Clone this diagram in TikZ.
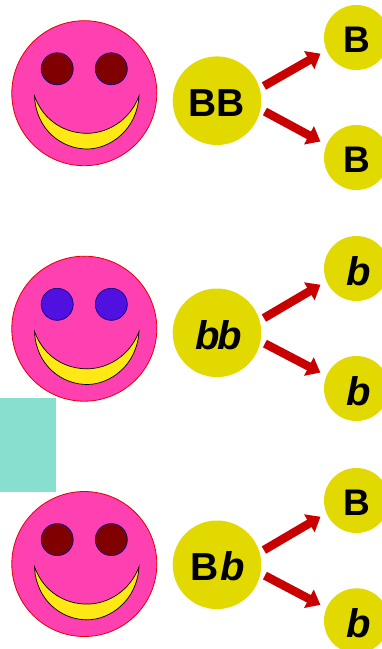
\documentclass[tikz,border=0pt]{standalone}
\usepackage{fontspec}
\usepackage{xcolor}
\usepackage{tikz}
\usetikzlibrary{arrows.meta}
\setmainfont{Liberation Sans}
\definecolor{facepink}{HTML}{FF40B0}
\definecolor{smileyellow}{HTML}{FFE814}
\definecolor{alleleyellow}{HTML}{E2D900}
\definecolor{eyered}{HTML}{800000}
\definecolor{eyeblue}{HTML}{5010E0}
\definecolor{arrowred}{HTML}{C80000}
\definecolor{patchteal}{HTML}{88DFD0}
\tikzset{
  face/.style={circle,draw=red!90!black,fill=facepink,line width=0.8pt,minimum size=145pt,inner sep=0pt,outer sep=0pt},
  eye/.style={circle,draw=blue!50!black,line width=0.7pt,minimum size=32pt,inner sep=0pt,outer sep=0pt},
  smile/.style={draw=black,fill=smileyellow,line width=0.7pt},
  parent/.style={circle,fill=alleleyellow,minimum size=88.6pt,inner sep=0pt,outer sep=0pt,text height=32pt,text depth=0pt,font=\bfseries\fontsize{39}{39}\selectfont},
  gamete/.style={circle,fill=alleleyellow,minimum size=65pt,inner sep=0pt,outer sep=0pt,text height=30pt,text depth=0pt,font=\bfseries\fontsize{37}{37}\selectfont},
  recessive/.style={text height=33pt,font=\bfseries\itshape\fontsize{40}{40}\selectfont},
  split/.style={arrowred,line width=8.5pt,shorten <=5pt,shorten >=7pt,-{Triangle[width=20pt,length=13pt]}}
}
\begin{document}
\begin{tikzpicture}[x=1pt,y=-1pt]
            \useasboundingbox (0,0) rectangle (382,649);
            \fill[patchteal] (0,398) rectangle (56,492);

            \node[face] (f1) at (84.3,93.2) {};
            \node[face] (f2) at (84.3,328.7) {};
            \node[face] (f3) at (84.3,564) {};

            \node[eye,fill=eyered] (e1) at (57.2,68.8) {};
            \node[eye,fill=eyered] (e2) at (111.3,68.8) {};
            \node[eye,fill=eyeblue] (e3) at (57.2,304.3) {};
            \node[eye,fill=eyeblue] (e4) at (111.3,304.3) {};
            \node[eye,fill=eyered] (e5) at (57.2,539.6) {};
            \node[eye,fill=eyered] (e6) at (111.3,539.6) {};

            \foreach \dy in {0,235.5,470.8}
              \draw[smile,shift={(0,\dy)}] (34.5,96) .. controls (44,122) and (66,133.3) .. (87,133.3)
                .. controls (108,133.3) and (130,120) .. (139,96)
                .. controls (137,130) and (110,149) .. (87,149)
                .. controls (62,149) and (36,130) .. (34.5,96) -- cycle;

            \node[parent] (p1) at (217,100.7) {BB};
            \node[gamete] (g1) at (356.5,37.5) {B};
            \node[gamete] (g2) at (356.5,157.5) {B};

            \node[parent,recessive] (p2) at (217,332.8) {\kern3pt b\kern-2pt b};
            \node[gamete,recessive] (g3) at (356.5,268.5) {\kern4pt b};
            \node[gamete,recessive] (g4) at (356.5,388.5) {\kern4pt b};

            \node[parent] (p3) at (217,564.8) {\kern2pt B\kern2pt{\itshape\fontsize{40}{40}\selectfont b}};
            \node[gamete] (g5) at (356.5,500.5) {B};
            \node[gamete,recessive] (g6) at (356.5,620.8) {\kern4pt b};

            \draw[split] (p1.16) -- (g1.203);
            \draw[split] (p1.-11) -- (g2.157);
            \draw[split] (p2.16) -- (g3.203);
            \draw[split] (p2.-11) -- (g4.157);
            \draw[split] (p3.16) -- (g5.203);
            \draw[split] (p3.-11) -- (g6.157);
        \end{tikzpicture}
\end{document}
